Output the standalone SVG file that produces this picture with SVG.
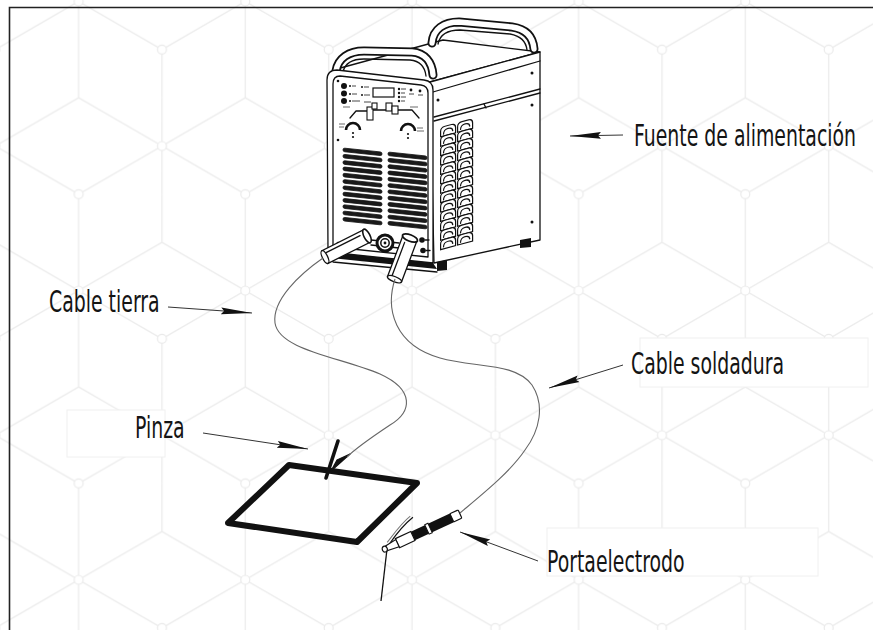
<svg xmlns="http://www.w3.org/2000/svg" xmlns:xlink="http://www.w3.org/1999/xlink" width="873" height="630" viewBox="0 0 873 630">
  <style>
    .lbl { font-family: 'DejaVu Sans Condensed', 'DejaVu Sans', 'Liberation Sans', sans-serif; font-stretch: condensed; font-size: 21px; fill: #141414; }
    .ln { fill: none; stroke: #111; stroke-width: 1.3; stroke-linejoin: round; stroke-linecap: round; }
    .wf { fill: #fff; stroke: #111; stroke-width: 1.3; stroke-linejoin: round; }
    .bk { fill: #111; stroke: none; }
    .cable { fill: none; stroke: #666; stroke-width: 1.1; }
    .lead { fill: none; stroke: #333; stroke-width: 1; }
    .box { fill: #fff; stroke: #f0f0f0; stroke-width: 1; }
  </style>
  <defs>
    <!-- isometric block background -->
    <pattern id="blocks" patternUnits="userSpaceOnUse" x="120.33" y="73.7" width="166.67" height="289.2">
      <path d="M41.67,-24.1V168.7 M-41.66,24.1L125,120.5 M-41.66,120.5L125,24.1
               M125,120.5V313.3 M41.67,168.7L208.33,265.1 M41.67,265.1L208.33,168.7
               M125,24.1L291.66,120.5 M125,120.5L291.66,24.1
               M41.67,265.1V457.9
               M125,-168.7V24.1
               M-125,168.7L41.67,265.1 M-125,265.1L41.67,168.7"
            fill="none" stroke="#ececec" stroke-width="1.3"/>
      <g fill="#fff" stroke="#eaeaea" stroke-width="1.2">
        <circle cx="41.67" cy="72.3" r="4.5"/>
        <circle cx="125" cy="216.9" r="4.5"/>
        <circle cx="41.67" cy="265.1" r="4.5"/>
        <circle cx="125" cy="120.5" r="4.5"/>
      </g>
    </pattern>
    <marker id="head" markerUnits="userSpaceOnUse" markerWidth="34" markerHeight="10" refX="31" refY="5" orient="auto">
      <path d="M0,1.6 L31,5 L0,8.4 L3,5 Z" fill="#111"/>
    </marker>
    <!-- one cell of the side air vent -->
    <path id="vcell" d="M0.6,10 V4.5 Q0.6,0.6 5,0.6 H11.5 Q15.6,0.6 15.6,4.6 V10 Z M3.5,8.5 Q3.5,3.6 8,3.6 Q12.6,3.6 12.8,7.5" fill="#fff" stroke="#111" stroke-width="1.2"/>
    <!-- one louvre slat of the front grille -->
    <rect id="slat" x="0" y="0" width="39" height="3.6" rx="1.8" fill="#1a1a1a" stroke="#111" stroke-width="0.8"/>
  </defs>

  <rect width="873" height="630" fill="#fff"/>
  <rect width="873" height="630" fill="url(#blocks)"/>

  <!-- white label panels -->
  <rect class="box" x="67" y="410" width="98" height="47"/>
  <rect class="box" x="640" y="338" width="228" height="49"/>
  <rect class="box" x="547" y="528" width="271" height="48"/>

  <!-- frame -->
  <path d="M9.5,630 V7.5 H873" fill="none" stroke="#222" stroke-width="1.6"/>

  <!-- welding power source -->
  <g id="power-source">
    <!-- top face -->
    <path class="wf" d="M333,70 L443,40 L540,52 L430,82 Z"/>
    <!-- rear handle -->
    <path d="M432,43 C433,29 444,22 459,22 L512,27 C526,29 533,37 534,49" fill="none" stroke="#111" stroke-width="9" stroke-linecap="round"/>
    <path d="M432,43 C433,29 444,22 459,22 L512,27 C526,29 533,37 534,49" fill="none" stroke="#fff" stroke-width="5.4" stroke-linecap="round"/>
    <path class="ln" d="M438,44 C440,34 448,30 460,30 L510,34 C521,36 526,41 527,50"/>
    <!-- front handle -->
    <path d="M336,71 C338,58 349,51 364,51 L412,52 C425,53 432,62 433,75" fill="none" stroke="#111" stroke-width="9" stroke-linecap="round"/>
    <path d="M336,71 C338,58 349,51 364,51 L412,52 C425,53 432,62 433,75" fill="none" stroke="#fff" stroke-width="5.4" stroke-linecap="round"/>
    <path class="ln" d="M343,72 C345,63 352,59 364,59 L410,60 C420,61 425,67 426,76"/>

    <!-- side face -->
    <path class="wf" d="M430,82 L540,52 L540,240 L434,263 Z"/>
    <path class="ln" d="M433,92 L540,61"/>
    <path class="ln" d="M434,117 L540,89 M434,121 L540,93"/>
    <path class="ln" d="M484,104 L486,108"/>
    <!-- side vents -->
    <g transform="translate(440,127) skewY(-15)">
      <use href="#vcell" x="0" y="0"/><use href="#vcell" x="17" y="0"/>
      <use href="#vcell" x="0" y="9.4"/><use href="#vcell" x="17" y="9.4"/>
      <use href="#vcell" x="0" y="18.8"/><use href="#vcell" x="17" y="18.8"/>
      <use href="#vcell" x="0" y="28.2"/><use href="#vcell" x="17" y="28.2"/>
      <use href="#vcell" x="0" y="37.6"/><use href="#vcell" x="17" y="37.6"/>
      <use href="#vcell" x="0" y="47"/><use href="#vcell" x="17" y="47"/>
      <use href="#vcell" x="0" y="56.4"/><use href="#vcell" x="17" y="56.4"/>
      <use href="#vcell" x="0" y="65.8"/><use href="#vcell" x="17" y="65.8"/>
      <use href="#vcell" x="0" y="75.2"/><use href="#vcell" x="17" y="75.2"/>
      <use href="#vcell" x="0" y="84.6"/><use href="#vcell" x="17" y="84.6"/>
      <use href="#vcell" x="0" y="94"/><use href="#vcell" x="17" y="94"/>
      <use href="#vcell" x="0" y="103.4"/><use href="#vcell" x="17" y="103.4"/>
      <use href="#vcell" x="0" y="112.8"/><use href="#vcell" x="17" y="112.8"/>
    </g>
    <!-- side screws -->
    <g class="bk">
      <circle cx="438" cy="100" r="1.5"/>
      <circle cx="532" cy="73" r="1.5"/>
      <circle cx="532" cy="105" r="1.5"/>
      <circle cx="532" cy="222" r="1.5"/>
    </g>
    <!-- feet -->
    <path class="bk" d="M437,262 L447,260 L447,270 L437,271 Z"/>
    <path class="bk" d="M520,240 L531,238 L531,247 L520,248 Z"/>

    <!-- front panel -->
    <path class="wf" d="M327,80 Q327,70 337,70 L424,80 Q433,81 433,90 L433,263 L328,252 Z"/>
    <path class="ln" d="M333,84 Q333,76 340,76 L421,85 Q428,86 428,93 L428,257 L333,247 Z"/>
    <path class="bk" d="M328,252 L433,263 L437,269 L331,258 Z"/>
    <path class="ln" d="M331,258 L333,262 L437,272"/>

    <!-- controls -->
    <g class="bk">
      <circle cx="344" cy="86" r="3"/>
      <circle cx="344" cy="93.5" r="3"/>
      <circle cx="344" cy="101" r="3"/>
      <circle cx="338" cy="81" r="1.3"/>
      <circle cx="338" cy="140" r="1.3"/>
      <circle cx="338" cy="243" r="1.3"/>
      <circle cx="350" cy="86" r="1"/>
      <circle cx="350" cy="94" r="1"/>
      <circle cx="350" cy="101" r="1"/>
      <circle cx="362" cy="87" r="1"/>
      <circle cx="362" cy="95" r="1"/>
      <circle cx="399" cy="89" r="1.2"/>
      <circle cx="399" cy="93" r="1.2"/>
      <circle cx="399" cy="97" r="1.2"/>
      <circle cx="399" cy="101" r="1.2"/>
      <circle cx="411" cy="90" r="1.4"/>
      <circle cx="420" cy="91" r="1.4"/>
    </g>
    <g fill="none" stroke="#333" stroke-width="0.9">
      <path d="M352,86 H356 M352,94 H357 M352,101 H360 M364,87 H369 M364,95 H370 M364,102 H371"/>
      <path d="M401,89 H406 M401,93 H405 M401,97 H406 M401,101 H405 M409,94 H414 M418,95 H423"/>
    </g>
    <rect x="373" y="88" width="21" height="9" fill="#fff" stroke="#111" stroke-width="1.2"/>
    <path class="ln" d="M350,118 L356,111 H367 M373,110 H386 M398,110 H412 L419,118" stroke-width="1.1"/>
    <g fill="#fff" stroke="#111" stroke-width="1.1">
      <rect x="367" y="107" width="6" height="13"/>
      <rect x="372" y="103" width="5" height="6"/>
      <rect x="386" y="103" width="6" height="8"/>
      <rect x="392" y="106" width="6" height="8"/>
    </g>
    <path d="M346,130 A7,7 0 0 1 360,130" fill="none" stroke="#111" stroke-width="2.6"/>
    <path d="M401,131 A7,7 0 0 1 415,131" fill="none" stroke="#111" stroke-width="2.6"/>
    <g class="bk">
      <circle cx="353" cy="133" r="1.1"/>
      <circle cx="353" cy="137" r="1.1"/>
      <circle cx="408" cy="134" r="1.1"/>
      <circle cx="408" cy="138" r="1.1"/>
    </g>
    <g fill="none" stroke="#444" stroke-width="0.8">
      <path d="M339,124 H345 M339,127 H344 M417,128 H423 M417,131 H424 M343,107 H350 M410,107 H418"/>
    </g>

    <!-- front grille -->
    <g transform="translate(343,148) skewY(6)">
      <use href="#slat" y="0"/><use href="#slat" y="6.3"/><use href="#slat" y="12.6"/>
      <use href="#slat" y="18.9"/><use href="#slat" y="25.2"/><use href="#slat" y="31.5"/>
      <use href="#slat" y="37.8"/><use href="#slat" y="44.1"/><use href="#slat" y="50.4"/>
      <use href="#slat" y="56.7"/><use href="#slat" y="63"/><use href="#slat" y="69.3"/>
    </g>
    <g transform="translate(388,152) skewY(6)">
      <use href="#slat" y="0"/><use href="#slat" y="6.3"/><use href="#slat" y="12.6"/>
      <use href="#slat" y="18.9"/><use href="#slat" y="25.2"/><use href="#slat" y="31.5"/>
      <use href="#slat" y="37.8"/><use href="#slat" y="44.1"/><use href="#slat" y="50.4"/>
      <use href="#slat" y="56.7"/><use href="#slat" y="63"/><use href="#slat" y="69.3"/>
    </g>

    <!-- output sockets -->
    <path class="ln" d="M371,240 L399,243 M371,245 L399,248"/>
    <circle cx="385" cy="243" r="8" fill="#fff" stroke="#111" stroke-width="3"/>
    <circle cx="385" cy="243" r="4.2" fill="#fff" stroke="#111" stroke-width="1.5"/>
    <circle cx="385" cy="243" r="1.4" class="bk"/>
    <g class="bk">
      <circle cx="422" cy="240" r="2.8"/>
      <circle cx="423" cy="250.5" r="2.8"/>
    </g>
    <path class="ln" d="M425,240 H429 M426,250.5 H430" stroke-width="1.6"/>

    <!-- earth cable plug -->
    <g transform="translate(367,236) rotate(153.4)">
      <rect x="0" y="-7" width="47" height="14" fill="#fff" stroke="#111" stroke-width="1.3"/>
      <path class="ln" d="M6,3.5 H44" stroke-width="1"/>
      <ellipse cx="47" cy="0" rx="2.6" ry="7" fill="#fff" stroke="#111" stroke-width="1.3"/>
      <ellipse cx="0" cy="0" rx="3" ry="7.5" fill="#fff" stroke="#111" stroke-width="1.6"/>
    </g>
    <!-- electrode cable plug -->
    <g transform="translate(410,238) rotate(110.6)">
      <rect x="0" y="-7.5" width="44" height="15" fill="#fff" stroke="#111" stroke-width="1.3"/>
      <path class="ln" d="M6,3.5 H42" stroke-width="1"/>
      <ellipse cx="44" cy="0" rx="2.6" ry="7.5" fill="#fff" stroke="#111" stroke-width="1.3"/>
      <ellipse cx="0" cy="0" rx="3.2" ry="8" fill="#fff" stroke="#111" stroke-width="1.8"/>
    </g>
  </g>

  <!-- workpiece and earth clamp -->
  <g id="workpiece">
    <path d="M289,465 L417,483 L357,542 L228,523 Z" fill="none" stroke="#111" stroke-width="6" stroke-linejoin="round"/>
  </g>
  <g id="earth-clamp">
    <path d="M338,441 L326,478" stroke="#111" stroke-width="3.6" stroke-linecap="round" fill="none"/>
    <path d="M350,454 L331,471 L337,460 Z" fill="#111" stroke="#111" stroke-width="1.2" stroke-linejoin="round"/>
  </g>

  <!-- electrode holder -->
  <g id="electrode-holder">
    <path d="M387,549 L381,601" stroke="#111" stroke-width="1.3" fill="none"/>
    <g transform="translate(460,514) rotate(155)">
      <rect x="0" y="-4.5" width="9" height="9" rx="1" fill="#fff" stroke="#111" stroke-width="1.2"/>
      <rect x="9" y="-4.8" width="43" height="9.6" fill="#111"/>
      <rect x="33" y="-5.2" width="3.5" height="10.4" fill="#fff" stroke="#111" stroke-width="1"/>
      <rect x="52" y="-5" width="17" height="10" fill="#fff" stroke="#111" stroke-width="1.2"/>
      <path d="M44,17 C56,14 66,9 76,3" fill="none" stroke="#111" stroke-width="1.2"/>
      <path d="M46,19 C58,16 68,10 78,5" fill="none" stroke="#777" stroke-width="1"/>
      <path d="M69,-4 L81,-2.5 L81,2.5 L69,4 Z" fill="#fff" stroke="#111" stroke-width="1.2"/>
      <ellipse cx="83" cy="0" rx="2.5" ry="3" fill="#fff" stroke="#111" stroke-width="1.2"/>
    </g>
  </g>

  <!-- connectors: cables and pointer leads -->
  <g id="connectors">
    <path class="cable" d="M323,258 C300,274 272,300 275,323 C279,350 340,357 380,374 C415,390 412,412 390,425 C372,437 357,447 347,457"/>
    <path class="cable" d="M395,279 C385,310 395,345 440,358 C475,368 515,362 532,385 C545,405 540,430 525,450 C510,472 485,492 460,513"/>
    <path class="lead" d="M623,135 L570,136" marker-end="url(#head)"/>
    <path class="lead" d="M168,307 L252,313" marker-end="url(#head)"/>
    <path class="lead" d="M203,433 L308,449" marker-end="url(#head)"/>
    <path class="lead" d="M623,365 L549,388" marker-end="url(#head)"/>
    <path class="lead" d="M538,561 L460,532" marker-end="url(#head)"/>
  </g>

  <!-- labels -->
  <text class="lbl" transform="translate(634,146) scale(1,1.45)">Fuente de alimentación</text>
  <text class="lbl" transform="translate(49,312) scale(1,1.45)">Cable tierra</text>
  <text class="lbl" transform="translate(135,438) scale(1,1.45)">Pinza</text>
  <text class="lbl" transform="translate(631,374) scale(1,1.45)">Cable soldadura</text>
  <text class="lbl" transform="translate(547,572) scale(1,1.45)">Portaelectrodo</text>
</svg>
